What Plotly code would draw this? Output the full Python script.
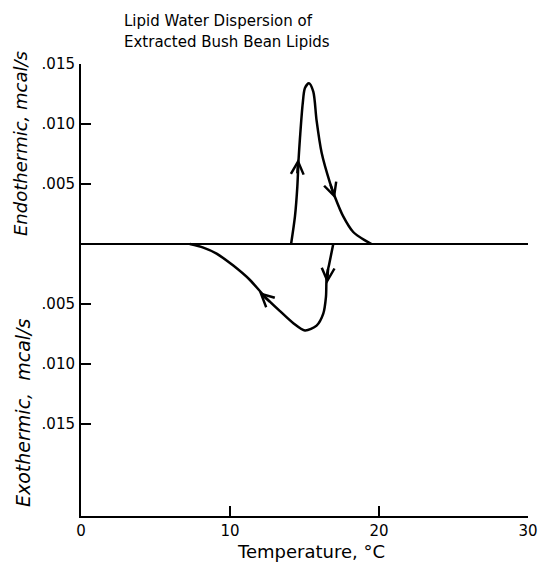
import plotly.graph_objects as go

# ---- data ----
# heating scan (endotherm), Temperature in degC, heat flow in mcal/s
heat_T = [14.1, 14.36, 14.52, 14.6, 14.7, 14.88, 15.03, 15.3, 15.59, 15.81,
          16.15, 16.71, 17.05, 17.6, 18.27, 19.06, 19.5]
heat_y = [0.0, 0.0023, 0.0048, 0.0070, 0.0089, 0.0117, 0.0130, 0.0134, 0.0127,
          0.0103, 0.0076, 0.0051, 0.0039, 0.0023, 0.0010, 0.0003, 0.0]

# cooling scan (exotherm, negative values)
cool_T = [16.93, 16.67, 16.49, 16.44, 16.26, 15.81, 15.03, 14.25, 13.36,
          12.35, 11.34, 10.22, 9.1, 8.21, 7.3]
cool_y = [0.0, -0.0016, -0.0027, -0.0044, -0.0058, -0.0068, -0.0072, -0.0066,
          -0.0056, -0.0044, -0.0030, -0.0018, -0.0008, -0.0003, 0.0]

# baseline
base_T = [0, 30]
base_y = [0.0, 0.0]

# direction arrows on the curves (tip positions)
arrow_T = [14.58, 17.05, 16.52, 11.95]
arrow_y = [0.0071, 0.0038, -0.0033, -0.0040]
arrow_dx = [-1, -5, 1, 12]      # tail offset in px (style)
arrow_dy = [16, -15, -16, 11]

x_ticks = [0, 10, 20, 30]
x_ticktext = ["0", "10", "20", "30"]
y_ticks = [0.015, 0.010, 0.005, -0.005, -0.010, -0.015]
y_ticktext = [".015", ".010", ".005", ".005", ".010", ".015"]

title_lines = ["Lipid Water Dispersion of", "Extracted Bush Bean Lipids"]
x_title = "Temperature, °C"
y_title_up = "Endothermic, mcal/s"
y_title_down = "Exothermic,  mcal/s"

FONT = "DejaVu Sans"
OFF = 8  # page body margin

L, T, PW, PH = 81 - OFF, 64 - OFF, 447, 452
W, H = 547 - OFF, 562 - OFF

fig = go.Figure()
fig.add_trace(go.Scatter(x=base_T, y=base_y, mode="lines",
                         line=dict(color="black", width=2), hoverinfo="skip"))
fig.add_trace(go.Scatter(x=heat_T, y=heat_y, mode="lines",
                         line=dict(color="black", width=2.5, shape="spline", smoothing=0.8)))
fig.add_trace(go.Scatter(x=cool_T, y=cool_y, mode="lines",
                         line=dict(color="black", width=2.5, shape="spline", smoothing=0.8)))

for t, v, dx, dy in zip(arrow_T, arrow_y, arrow_dx, arrow_dy):
    fig.add_annotation(x=t, y=v, xref="x", yref="y", text="", showarrow=True,
                       ax=dx, ay=dy, arrowhead=5, arrowsize=1.0, arrowwidth=2.5,
                       arrowcolor="black")

def px_x(p):
    return (p - 81) / PW

def px_y(p):
    return (516 - p) / PH

fig.add_annotation(text=title_lines[0], xref="paper", yref="paper",
                   x=px_x(122), y=px_y(21), xanchor="left",
                   yanchor="middle", showarrow=False,
                   font=dict(family=FONT, size=15, color="black"))
fig.add_annotation(text=title_lines[1], xref="paper", yref="paper",
                   x=px_x(122), y=px_y(42), xanchor="left",
                   yanchor="middle", showarrow=False,
                   font=dict(family=FONT, size=15, color="black"))
fig.add_annotation(text=x_title, xref="paper", yref="paper",
                   x=px_x(311), y=px_y(551), xanchor="center",
                   yanchor="middle", showarrow=False,
                   font=dict(family=FONT, size=18, color="black"))
fig.add_annotation(text="<i>" + y_title_up + "</i>", xref="paper", yref="paper",
                   x=px_x(20), y=px_y(144), xanchor="center",
                   yanchor="middle", textangle=-90, showarrow=False,
                   font=dict(family=FONT, size=18, color="black"))
fig.add_annotation(text="<i>" + y_title_down + "</i>", xref="paper", yref="paper",
                   x=px_x(23), y=px_y(413), xanchor="center",
                   yanchor="middle", textangle=-90, showarrow=False,
                   font=dict(family=FONT, size=19, color="black"))

fig.update_layout(
    width=W, height=H,
    margin=dict(l=L, r=W - L - PW, t=T, b=H - T - PH, autoexpand=False),
    plot_bgcolor="white", paper_bgcolor="white",
    showlegend=False,
    font=dict(family=FONT, size=15, color="black"),
    xaxis=dict(range=[0, 30], tickvals=x_ticks, ticktext=x_ticktext,
               ticks="inside", ticklen=10, tickwidth=2, tickcolor="black",
               showline=True, linewidth=2, linecolor="black",
               showgrid=False, zeroline=False, ticklabelstandoff=0,
               automargin=False),
    yaxis=dict(range=[-0.022667, 0.015], tickvals=y_ticks, ticktext=y_ticktext,
               ticks="inside", ticklen=10, tickwidth=2, tickcolor="black",
               showline=True, linewidth=2, linecolor="black",
               showgrid=False, zeroline=False, ticklabelstandoff=1,
               automargin=False),
)

fig.write_html("out.html")
